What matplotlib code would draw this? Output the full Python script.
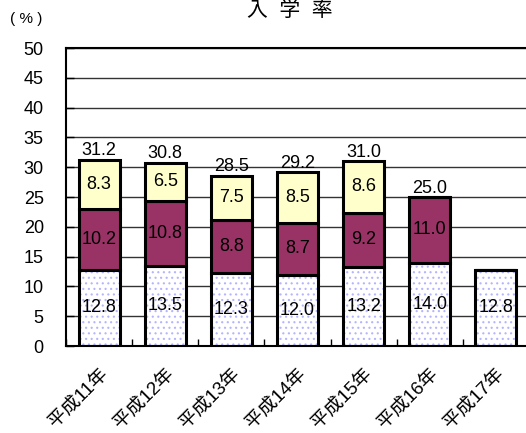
import matplotlib
matplotlib.use("Agg")
import matplotlib.pyplot as plt
import matplotlib.transforms as mtransforms
import numpy as np

plt.rcParams['font.family'] = ['Liberation Sans', 'Noto Sans CJK JP', 'DejaVu Sans']

# data
years = ["平成11年", "平成12年", "平成13年", "平成14年", "平成15年", "平成16年", "平成17年"]
bottom_vals = [12.8, 13.5, 12.3, 12.0, 13.2, 14.0, 12.8]
middle_vals = [10.2, 10.8, 8.8, 8.7, 9.2, 11.0, None]
top_vals = [8.3, 6.5, 7.5, 8.5, 8.6, None, None]
totals = [31.2, 30.8, 28.5, 29.2, 31.0, 25.0, None]

x = np.arange(len(years))
w = 0.62

fig = plt.figure(figsize=(5.26, 4.33), dpi=100)
ax = fig.add_axes([0.1255, 0.2009, 0.880, 0.688])

# bottom segment: white with light blue dots
plt.rcParams['hatch.linewidth'] = 0.8
b1 = np.array(bottom_vals)
ax.bar(x, b1, w, color="white", edgecolor="#b4b4ff", hatch="...", linewidth=0, zorder=2)
ax.bar(x, b1, w, fill=False, edgecolor="black", linewidth=2.2, zorder=3)

mid = np.array([v if v is not None else 0 for v in middle_vals])
ax.bar(x, mid, w, bottom=b1, color="#993366", edgecolor="black", linewidth=2.2, zorder=3)
top = np.array([v if v is not None else 0 for v in top_vals])
ax.bar(x, top, w, bottom=b1 + mid, color="#ffffcc", edgecolor="black", linewidth=2.2, zorder=3)

fs = 13
for i in range(len(years)):
    ax.text(x[i], b1[i] / 2, f"{bottom_vals[i]:.1f}", ha="center", va="center", fontsize=fs, zorder=4)
    if middle_vals[i] is not None:
        ax.text(x[i], b1[i] + mid[i] / 2, f"{middle_vals[i]:.1f}", ha="center", va="center", fontsize=fs, zorder=4)
    if top_vals[i] is not None:
        ax.text(x[i], b1[i] + mid[i] + top[i] / 2, f"{top_vals[i]:.1f}", ha="center", va="center", fontsize=fs, zorder=4)
    if totals[i] is not None:
        ax.text(x[i], b1[i] + mid[i] + top[i] + 0.05, f"{totals[i]:.1f}", ha="center", va="bottom", fontsize=fs, zorder=4)

ax.set_xlim(-0.5, len(years) - 0.5)
ax.set_ylim(0, 50)
ax.set_yticks(np.arange(0, 51, 5))
ax.yaxis.grid(True, color="#333333", linewidth=1, zorder=0)
ax.set_axisbelow(True)

ax.set_xticks(x)
ax.set_xticklabels(years, rotation=45, ha="right", rotation_mode="anchor", fontsize=13.5)
shift = mtransforms.ScaledTranslation(-8 / 100, 0, fig.dpi_scale_trans)
for lbl in ax.get_xticklabels():
    lbl.set_transform(lbl.get_transform() + shift)
ax.set_xticks(np.arange(-0.5, len(years), 1), minor=True)
ax.tick_params(axis="x", which="major", length=0, pad=14)
ax.tick_params(axis="x", which="minor", direction="in", length=5, width=1)
ax.tick_params(axis="y", direction="in", length=6, width=1, labelsize=13, pad=16)

ax.spines["right"].set_visible(False)
ax.spines["top"].set_linewidth(1.5)
ax.spines["left"].set_linewidth(1.5)
ax.spines["bottom"].set_linewidth(1.5)

fig.text(0.551, 1 - 10 / 433, "入  学  率", ha="center", va="center", fontsize=15)
fig.text(0.05, 1 - 19 / 433, "( % )", ha="center", va="center", fontsize=11)

fig.savefig("out.png", dpi=100)
